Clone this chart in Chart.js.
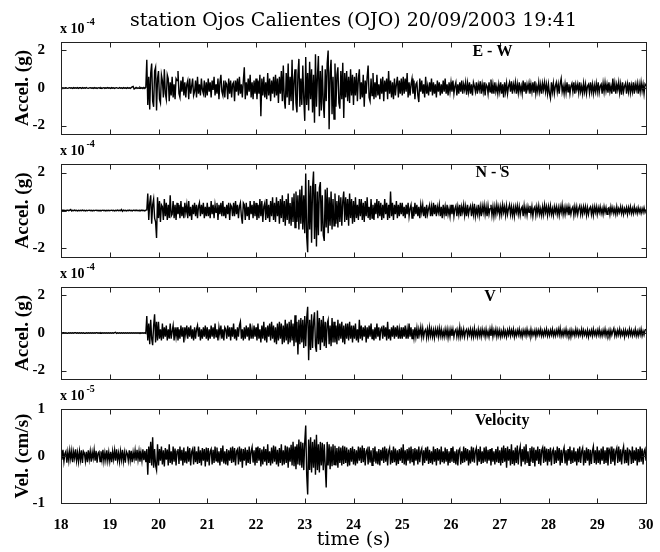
<!DOCTYPE html>
<html>
<head>
<meta charset="utf-8">
<script src="https://cdn.jsdelivr.net/npm/chart.js@4.4.0/dist/chart.umd.min.js"></script>
<style>
  body { margin: 0; background: #fff; }
  #wrap { position: relative; width: 660px; height: 552px; }
  #wrap canvas { position: absolute; left: 0; top: 0; }
</style>
</head>
<body>
<div id="wrap">
  <canvas id="c0" width="660" height="552"></canvas>
  <canvas id="c1" width="660" height="552"></canvas>
  <canvas id="c2" width="660" height="552"></canvas>
  <canvas id="c3" width="660" height="552"></canvas>
</div>
<script>
// sampling of the traces (s)
const timeStart = 18;
const sampleStep = 0.02;

const timeTicks = [18, 19, 20, 21, 22, 23, 24, 25, 26, 27, 28, 29, 30];
const accelTicks = [-2, 0, 2];
const velTicks = [-1, 0, 1];
const components = ['E - W', 'N - S', 'V', 'Velocity'];

// accelerations in 1e-4 g, one line per second (50 samples)
const accelEW = [
  .02,-.01,.01,-.02,.01,.02,-.01,-.02,.01,.02,-.01,.01,-.02,.02,-.01,.01,-.01,.02,-.02,.01,.01,-.02,.02,-.01,.01,-.01,.02,-.01,-.02,.01,.02,-.01,.01,-.02,.02,-.01,.01,-.02,.01,.02,-.01,.01,-.02,.01,.02,-.02,.01,-.01,.02,-.01,
  .01,-.02,.02,-.01,.01,-.02,.01,.02,-.01,-.02,.02,-.01,.01,-.02,.02,-.01,.01,-.02,.02,-.01,.01,-.02,.02,.06,.08,-.05,-.02,.03,-.02,.01,-.02,.03,-.02,.02,-.03,.03,-.02,.04,1.5,-.9,.6,-1.15,.8,1.3,-.7,-1.0,.9,1.1,-1.2,.5,
  .9,-.6,-.8,.7,.4,-.5,1.0,-.3,-.6,.7,.5,-.7,.3,-.4,.6,-.5,.2,-.6,.5,.4,.9,-.3,-.5,.4,-.2,.6,-.4,.3,-.5,.2,.4,-.6,.5,-.3,.1,.5,-.4,-.2,.4,-.5,.6,-.3,.2,-.4,.5,-.1,-.3,.4,-.5,.3,
  -.4,.5,-.2,.3,-.5,.4,-.1,.6,-.4,.2,-.3,.5,-.6,.3,.7,-.2,-.4,.4,-.5,.3,.2,-.6,.5,-.3,.4,-.5,.2,.3,-.7,.4,-.2,.5,-.4,.6,-.3,.2,-.5,.4,1.1,-.6,.3,-.4,.5,-.2,.7,-.5,.3,-.6,.4,-.3,
  .5,-.6,.4,-.3,.7,-1.5,.5,-.4,.6,-.5,.3,-.6,.8,-.4,.5,-.7,.4,-.3,.6,-.5,.7,-.4,.5,-.8,.6,-.3,.9,-.7,1.2,-.6,-1.1,.8,-.5,1.3,-.9,.6,-.7,1.5,-1.2,.4,1.0,-.8,-1.3,.7,1.55,-1.0,.5,-.9,1.2,-.6,
  -1.75,1.65,-.9,.8,-1.2,1.4,-.6,1.0,-1.3,.7,-1.85,1.8,-1.0,.6,1.7,-1.5,.9,-1.2,1.2,-.8,-1.6,1.0,-.7,1.3,2.0,-2.2,.8,1.5,-1.4,.6,-1.65,1.3,-1.0,.7,1.1,-.8,-1.1,.9,-.6,1.35,-1.6,.8,-.5,.9,-.7,.6,-.8,1.0,-.4,.7,
  -.9,.6,-.4,.8,-.7,.5,1.0,-.6,.3,-.5,.7,-1.0,.4,-.3,.6,1.2,-.5,-.7,.5,-.4,.8,-.6,.3,-.5,.7,-.4,.2,-.6,.5,-.3,.6,-.7,.4,-.2,.5,-.6,.9,-.3,.4,-.5,.3,-.6,.5,-.4,.2,.6,-.5,.4,-.3,.5,
  -.4,.6,-.3,.5,-.2,.8,-.5,.3,-.4,.2,.5,-.3,.4,-.6,.2,.3,-.4,-.75,.5,-.2,.4,-.3,.2,-.5,.6,-.3,.1,-.4,.3,-.2,.5,-.4,.3,-.3,.2,-.5,.4,-.2,.3,-.4,.2,-.3,.4,-.2,.5,-.3,.2,-.4,.3,-.2,
  .3,-.2,.4,-.3,.1,.3,-.4,.2,-.3,.3,-.2,.4,-.3,.2,-.1,.3,-.35,.25,-.2,.3,-.3,.2,-.4,.3,.1,-.2,.3,-.3,.2,-.1,.35,-.3,.2,-.2,.3,-.4,.2,.1,-.3,.3,-.2,.45,-.3,.2,-.3,.3,-.2,.1,-.3,.2,
  -.2,.3,-.3,.2,-.5,.3,-.2,.25,-.3,.1,.3,-.2,.35,-.3,.2,-.1,.3,-.3,.2,-.25,.3,-.2,.1,-.3,.4,-.2,.3,-.3,.2,-.1,.25,-.3,.2,-.2,.3,-.25,.35,-.3,.1,-.2,.3,-.2,.2,-.3,.25,-.1,.3,-.2,.2,-.3,
  .2,-.3,-.55,.3,-.2,.25,-.3,.1,.3,-.2,.2,-.3,.25,.5,-.2,.1,-.3,.2,-.25,.3,-.2,.2,-.3,.1,.25,-.2,.3,-.3,.2,-.1,.2,-.25,.3,-.2,.1,-.3,.25,-.2,.2,-.3,.1,.2,-.25,.3,-.2,.2,-.3,.15,-.2,.25,
  -.2,.3,-.25,.1,.2,-.3,.25,-.2,.3,-.15,.2,-.25,.3,-.2,.1,-.3,.5,-.2,.25,-.3,.2,-.1,.3,-.25,.2,-.35,.3,-.2,.1,.25,-.3,.2,-.2,.3,-.25,.15,-.2,.3,-.3,.2,-.1,.25,-.3,.2,-.2,.3,-.15,.2,-.3,.2,
  .1
];

const accelNS = [
  .01,-.01,.02,-.01,.01,-.02,.01,.01,-.01,.02,.05,-.03,.01,-.01,.02,-.01,.01,-.02,.01,-.01,.01,-.01,.02,-.01,.01,-.02,.01,-.01,.01,.02,-.01,.01,-.02,.01,-.01,.01,.02,-.01,.01,-.02,.01,-.01,.01,.02,-.01,.01,-.02,.01,-.01,.01,
  -.01,.01,.02,-.01,.01,-.02,.01,-.01,.02,-.01,.01,-.01,.05,-.04,.02,-.01,.01,-.02,.01,-.01,.02,-.01,.01,-.02,.01,.01,-.01,.02,-.01,.01,-.02,.01,-.01,.02,-.01,.01,-.02,.02,.03,.9,-.5,.4,.8,-.7,.3,.6,-.4,-.6,-1.45,.7,
  -.4,.5,-.6,.3,.2,-.5,.6,-.3,.4,-.5,.3,-.4,.8,-.3,-.2,.5,-.4,.3,-.5,.4,-.2,.3,-.4,.5,-.3,.2,-.4,.4,-.1,.3,-.4,.5,-.3,.2,-.5,.3,-.2,.4,-.3,.3,-.4,.2,.4,-.3,.3,-.2,.4,-.4,.2,-.3,
  .4,-.3,.2,-.4,.5,-.2,.3,-.4,.3,-.1,.4,-.5,.3,-.2,.4,-.3,.5,-.3,.2,-.4,.3,-.2,.4,-.5,.3,.2,-.3,.4,-.3,.5,-.2,.3,-.4,.2,.4,-.3,-.7,.4,.3,-.5,.4,-.3,.2,-.5,.5,-.2,.3,-.4,.5,-.3,
  .4,-.5,.3,-.4,.6,-.3,.5,-.6,.2,.4,-.5,.6,-.4,.3,-.6,.5,-.3,.7,-.5,.4,-.6,.7,-.3,.5,-.7,.6,-.4,.8,-.6,.5,-.8,.6,-.5,.9,-.7,.4,-.8,.7,-.6,.9,-.9,1.0,-.6,.8,-1.0,1.1,-.7,1.3,-1.0,.8,
  -1.2,1.95,-1.4,-2.2,1.6,-1.0,1.3,-1.7,1.2,2.05,-1.5,1.4,-1.9,1.0,-1.3,1.2,1.5,-1.1,.8,-1.3,-1.6,1.1,-.9,1.2,-1.2,.7,-.8,1.0,-1.0,.6,-.8,.9,-.7,.5,-.9,.8,-.6,.7,-.8,.5,1.0,-.6,.7,-.5,.6,-.8,.9,-.4,.6,-.7,
  .5,-.6,.7,-.4,.3,-.5,.6,-.3,.6,-.5,.4,-.6,.5,-.3,.7,-.4,.2,-.5,.6,-.4,.3,-.5,.4,-.2,.6,-.4,.5,-.3,.4,-.5,.3,-.4,.6,-.2,.4,-.5,.3,-.4,1.0,-.3,.4,-.5,.3,-.2,.5,-.4,.3,-.3,.4,-.2,
  .4,-.3,.2,-.4,.3,-.2,.4,-.3,.1,.3,-.4,.2,-.3,.4,-.2,.3,-.3,.2,-.4,.3,-.1,.3,-.3,.2,-.4,.3,-.2,.1,.3,-.3,.2,-.3,.4,-.2,.3,-.3,.2,-.1,.3,-.3,.2,-.4,.3,-.2,.2,-.3,.3,-.2,.1,-.3,
  .3,-.2,.3,-.3,.1,.25,-.3,.2,-.2,.3,-.3,.2,-.1,.3,-.25,.2,-.3,.3,-.2,.1,.25,-.3,.2,-.2,.35,-.3,.1,-.2,.3,-.25,.2,-.3,.25,-.1,.3,-.2,.2,-.3,.25,-.2,.1,.3,-.25,.2,-.3,.2,-.2,.3,-.1,.2,
  -.25,.2,-.2,.3,-.1,.2,-.25,.25,-.2,.1,.3,-.2,.2,-.25,.15,-.3,.2,-.1,.25,-.2,.2,-.25,.1,.2,-.3,.25,-.2,.15,-.25,.2,-.1,.25,-.2,.2,-.3,.1,.2,-.25,.2,-.15,.25,-.2,.1,-.25,.2,-.2,.3,-.1,.2,-.25,
  .2,-.15,.25,-.2,.1,-.25,.2,-.1,.2,-.2,.15,-.25,.2,-.1,.3,-.2,.15,-.2,.2,-.1,.2,-.25,.15,-.2,.1,.2,-.25,.2,-.15,.2,-.2,.1,.25,-.2,.15,-.2,.2,-.1,.2,-.25,.15,-.2,.1,.2,-.2,.15,-.25,.2,-.1,.2,
  -.2,.15,-.1,.2,-.15,.1,-.2,.2,-.1,.15,-.2,.1,.15,-.2,.2,-.1,.15,-.15,.1,-.2,.2,-.15,.1,-.1,.2,-.15,.15,-.2,.1,-.1,.15,-.2,.15,-.1,.2,-.15,.1,-.15,.2,-.1,.1,-.15,.15,-.1,.1,-.15,.1,-.1,.15,-.1,
  .05
];

const accelV = [
  .01,-.01,.01,.01,-.01,.01,-.01,-.01,.01,-.01,.01,-.01,.01,-.01,.01,.01,-.01,.01,-.01,.01,-.01,.01,-.01,.01,-.01,-.01,.01,-.01,.01,-.01,.01,-.01,.01,-.01,.01,-.01,.01,.01,-.01,.01,-.01,.01,-.01,.01,-.01,.01,-.01,.01,-.01,.01,
  -.01,.01,-.01,.01,-.01,.02,.04,-.02,.01,-.01,.01,-.01,.01,-.01,.01,-.01,.01,-.01,.01,-.01,.01,-.01,.01,-.01,.01,-.01,.01,-.01,.01,-.01,.01,-.01,.01,-.01,.01,-.01,.01,-.02,.9,-.4,.5,-.6,.7,-.3,-.65,.4,1.0,-.5,.6,-.4,
  .6,-.3,.2,-.4,.5,-.3,.3,-.2,.4,-.4,.2,-.3,.5,-.3,.1,.4,-.4,.3,-.2,.3,-.4,.2,-.3,.4,-.2,.3,-.5,.3,-.1,.4,-.3,.3,-.2,.4,-.3,.2,-.4,.3,-.3,.2,.4,-.2,.3,-.4,.2,-.3,.3,-.2,.4,-.3,
  .3,-.4,.2,-.3,.4,-.2,.3,-.3,.5,-.2,.2,-.4,.3,-.1,.4,-.3,.2,-.4,.3,.2,-.3,.4,-.2,.3,-.4,.3,-.2,.5,-.3,.2,-.4,.3,-.2,.4,.6,-.3,.2,-.4,.3,-.3,.4,-.2,.3,-.4,.5,-.3,.2,-.3,.4,-.2,
  .3,-.4,.5,-.3,.2,-.5,.4,-.3,.6,-.4,.3,-.5,.4,-.2,.5,-.4,.6,-.3,.4,-.5,.3,-.6,.5,-.4,.6,-.3,.5,-.6,.4,-.5,.7,-.4,.5,-.6,.6,-.5,.7,-.4,.5,-.7,.95,-.5,.6,-1.15,.7,-.6,.8,-.5,.7,-.8,
  .9,-.7,.8,1.4,-1.45,.7,-.9,1.0,-.8,.6,1.1,-.7,-1.0,1.2,-.6,.8,-.9,.7,-.5,.9,-.7,.6,-.8,.5,.7,-.6,.4,-.7,.8,-.5,.6,-.5,.4,-.6,.7,-.4,.5,-.3,.6,-.5,.4,-.6,.5,-.3,.5,-.4,.6,-.3,.4,-.5,
  .4,-.3,.5,-.4,.2,-.5,.7,-.3,.4,-.4,.3,-.2,.4,-.5,.3,-.3,.4,-.2,.5,-.3,.2,-.4,.3,-.3,.5,-.2,.3,-.4,.2,.3,-.3,.4,-.2,.3,-.4,.6,-.3,.2,-.4,.3,-.2,.4,-.3,.3,-.2,.4,-.3,.2,-.3,.3,
  -.3,.3,-.2,.4,-.3,.2,-.3,.5,-.2,.3,-.3,.2,-.25,.3,-.2,.25,-.3,.2,-.1,.3,-.2,.25,-.2,.1,.2,-.25,.2,-.2,.3,-.15,.2,-.2,.15,-.25,.2,-.1,.2,-.2,.25,-.15,.2,-.2,.1,-.2,.2,-.15,.2,-.25,.15,-.2,
  .2,-.15,.2,-.2,.1,.2,-.2,.15,-.2,.3,-.2,.15,-.15,.2,-.2,.1,.2,-.2,.15,-.1,.2,-.2,.15,-.2,.25,-.15,.1,-.2,.2,-.15,.15,-.2,.2,-.1,.15,-.2,.2,-.15,.1,-.2,.2,-.15,.25,-.2,.15,-.1,.2,-.2,.15,-.15,
  .15,-.2,.1,-.15,.2,-.15,.1,-.2,.15,-.1,.2,-.15,.15,-.1,.2,-.2,.1,-.15,.15,-.1,.2,-.15,.1,-.2,.15,-.1,.15,-.15,.2,-.1,.1,-.15,.2,-.15,.1,-.1,.15,-.2,.15,-.1,.15,-.1,.2,-.15,.1,-.15,.15,-.1,.2,-.15,
  .1,-.15,.15,-.1,.2,-.15,.1,-.15,.15,-.1,.2,-.1,.25,-.15,.1,-.15,.15,-.1,.2,-.15,.1,-.1,.15,-.2,.15,-.1,.1,-.15,.2,-.1,.15,-.15,.1,-.1,.2,-.15,.15,-.1,.1,-.15,.15,-.2,.1,-.1,.15,-.15,.2,-.1,.1,-.15,
  .15,-.1,.2,-.15,.1,-.15,.15,-.1,.2,-.15,.1,-.1,.15,-.2,.15,-.1,.1,.25,-.15,.1,-.15,.15,-.1,.2,-.15,.1,-.1,.15,-.2,.15,-.1,.1,-.15,.2,-.1,.15,-.15,.1,-.1,.2,-.15,.1,-.15,.15,-.1,.2,-.15,.1,-.1,.15,
  .2
];

// velocity in 1e-5 cm/s
const velocity = [
  .1,-.08,.13,-.12,.05,.1,-.14,.08,-.1,.12,-.06,.11,-.13,.09,-.05,.14,-.1,.07,-.12,.1,-.08,.12,-.15,.1,.06,-.11,.09,-.13,.12,-.07,.1,-.12,.08,-.05,.13,-.1,.11,-.14,.06,.09,-.12,.1,-.08,.13,-.11,.07,-.09,.12,-.1,.08,
  -.11,.09,-.13,.1,-.07,.12,-.1,.14,-.09,.06,-.12,.1,-.08,.13,-.11,.07,-.14,.1,.05,-.1,.12,-.09,.11,-.13,.08,-.06,.12,-.1,.13,-.08,.1,-.12,.07,-.1,.14,-.09,.11,-.13,.15,-.4,.2,-.15,.3,-.2,.4,-.25,.15,-.2,-.3,.25,
  -.2,.15,-.1,.2,-.18,.12,-.22,.17,-.08,.14,-.2,.25,-.15,.1,-.18,.2,-.12,.16,-.2,.1,.15,-.17,.2,-.1,.13,-.2,.18,-.14,.1,-.16,.2,-.12,.17,-.2,.09,.15,-.18,.2,-.13,.1,-.17,.2,-.15,.12,-.2,.17,-.1,.15,-.22,.18,
  -.12,.17,-.2,.1,.15,-.18,.13,-.15,.2,-.1,.18,-.14,.1,-.2,.17,-.12,.22,-.16,.1,-.18,.15,-.2,.12,-.1,.18,-.15,.2,-.13,.17,-.2,.1,.14,-.18,.2,-.12,.16,-.25,.15,-.1,.18,-.2,.13,-.15,.2,-.17,.1,.19,-.14,.12,-.2,
  .18,-.15,.2,-.1,.17,-.22,.14,-.18,.2,-.12,.15,-.2,.25,-.15,.1,-.2,.18,-.16,.22,-.12,.2,-.18,.13,-.22,.17,-.15,.25,-.2,.12,-.18,.22,-.15,.2,-.25,.18,-.12,.24,-.2,.3,-.22,.2,-.28,.25,-.18,.35,-.2,.3,-.25,.28,-.3,
  .3,.65,-.4,-.82,.35,-.3,.4,-.35,.3,-.25,.35,-.4,.45,-.3,.25,-.35,.3,-.2,.28,-.3,.25,-.2,-.67,.3,-.2,.25,-.28,.2,-.22,.25,-.18,.22,-.2,.17,-.25,.2,-.15,.18,-.2,.22,-.17,.2,-.15,.18,-.22,.14,-.2,.17,-.12,.2,
  -.18,.15,-.2,.12,-.16,.2,-.1,.18,-.15,.22,-.13,.17,-.2,.1,.15,-.18,.2,-.14,.12,-.2,.17,-.12,.2,-.16,.1,-.18,.15,-.2,.13,-.1,.18,-.15,.2,-.12,.16,-.2,.1,.17,-.18,.12,-.15,.2,-.13,.16,-.2,.12,-.17,.15,-.1,.18,
  -.15,.25,-.18,.12,-.2,.15,-.1,.18,-.16,.2,-.12,.15,-.2,.17,-.1,.14,-.18,.2,-.13,.1,.16,-.2,.12,-.15,.18,-.1,.2,-.17,.13,-.15,.1,-.18,.2,-.12,.15,-.2,.17,-.1,.14,-.18,.2,-.13,.1,-.16,.18,-.12,.15,-.2,.1,-.15,
  .17,-.12,.2,-.15,.1,-.18,.14,-.2,.12,.16,-.18,.1,-.15,.2,-.13,.17,-.1,.15,-.2,.12,-.16,.2,-.12,.18,-.14,.1,.17,-.2,.15,-.12,.2,-.17,.1,-.15,.18,-.12,.2,-.16,.13,-.1,.15,-.2,.17,-.12,.1,-.18,.15,-.13,.2,-.15,
  .12,-.2,.18,-.15,.22,-.12,.17,-.25,.2,-.1,.15,-.2,.25,-.17,.12,-.2,.18,-.15,.22,-.18,.1,.2,-.22,.15,-.12,.2,-.18,.25,-.15,.1,-.2,.17,-.12,.2,-.15,.18,-.22,.13,-.1,.2,-.17,.15,-.2,.12,.18,-.15,.2,-.12,.16,-.2,
  .15,-.12,.18,-.2,.1,.15,-.17,.12,-.15,.2,-.1,.17,-.2,.13,-.15,.1,.18,-.16,.12,-.2,.15,-.1,.2,-.17,.12,-.15,.18,-.12,.1,-.2,.16,-.13,.2,-.15,.1,.17,-.2,.12,-.15,.18,-.1,.15,-.2,.13,-.17,.1,.2,-.15,.12,-.18,
  .2,-.15,.12,-.18,.16,-.1,.2,-.17,.12,-.15,.18,-.2,.1,.15,-.17,.2,-.12,.16,-.2,.1,.17,-.15,.2,-.12,.14,-.18,.1,.2,-.16,.13,-.15,.18,-.2,.12,.1,-.17,.2,-.15,.12,-.1,.18,-.2,.15,-.13,.2,-.12,.16,-.18,.1,.15,
  -.1
];

Chart.defaults.font.family = '"Liberation Serif", "Times New Roman", serif';
Chart.defaults.color = '#000';

function toPoints(values) {
  return values.map((v, i) => ({ x: timeStart + i * sampleStep, y: v }));
}

// box, inward ticks, "x 10^n" multiplier and component name
const framePlugin = {
  id: 'frame',
  afterDraw(chart, args, opts) {
    const { ctx, chartArea: a, scales: { x, y } } = chart;
    ctx.save();
    ctx.strokeStyle = '#222';
    ctx.lineWidth = 1;
    const l = Math.round(a.left) + 0.5, t = Math.round(a.top) + 0.5;
    const r = Math.round(a.right) + 0.5, b = Math.round(a.bottom) + 0.5;
    ctx.strokeRect(l, t, r - l, b - t);
    ctx.beginPath();
    timeTicks.forEach(v => {
      if (v === x.min || v === x.max) return;
      const px = Math.round(x.getPixelForValue(v)) + 0.5;
      ctx.moveTo(px, t); ctx.lineTo(px, t + 5);
      ctx.moveTo(px, b); ctx.lineTo(px, b - 5);
    });
    y.ticks.forEach(tk => {
      if (tk.value === y.min || tk.value === y.max) return;
      const py = Math.round(y.getPixelForValue(tk.value)) + 0.5;
      ctx.moveTo(l, py); ctx.lineTo(l + 5, py);
      ctx.moveTo(r, py); ctx.lineTo(r - 5, py);
    });
    ctx.stroke();

    ctx.fillStyle = '#000';
    ctx.textAlign = 'left';
    ctx.textBaseline = 'alphabetic';
    ctx.font = 'bold 14px "Liberation Serif"';
    ctx.fillText('x 10', a.left - 1, a.top - 9);
    const w = ctx.measureText('x 10').width;
    ctx.font = 'bold 10px "Liberation Serif"';
    ctx.fillText(opts.exponent, a.left + w + 1, a.top - 17);

    ctx.font = 'bold 16px "Liberation Serif"';
    ctx.textAlign = 'center';
    ctx.textBaseline = 'middle';
    ctx.fillText(opts.name, x.getPixelForValue(opts.nameAt[0]), y.getPixelForValue(opts.nameAt[1]));
    ctx.restore();
  }
};

const panels = [
  { id: 'c0', values: accelEW, ticks: accelTicks, lim: 2.45, top: 0, bottom: 418, yTitle: 'Accel. (g)', exponent: '-4', nameAt: [26.85, 1.95] },
  { id: 'c1', values: accelNS, ticks: accelTicks, lim: 2.45, top: 164, bottom: 295, yTitle: 'Accel. (g)', exponent: '-4', nameAt: [26.85, 2.0] },
  { id: 'c2', values: accelV, ticks: accelTicks, lim: 2.45, top: 287, bottom: 173, yTitle: 'Accel. (g)', exponent: '-4', nameAt: [26.8, 1.95] },
  { id: 'c3', values: velocity, ticks: velTicks, lim: 1, top: 409, bottom: 0, yTitle: 'Vel. (cm/s)', exponent: '-5', nameAt: [27.05, 0.75] }
];

panels.forEach((p, i) => {
  const first = i === 0;
  const last = i === panels.length - 1;
  new Chart(document.getElementById(p.id), {
    type: 'line',
    data: {
      datasets: [{
        data: toPoints(p.values),
        borderColor: '#000',
        borderWidth: 1.4,
        pointRadius: 0,
        tension: 0,
        fill: false
      }]
    },
    options: {
      responsive: false,
      animation: false,
      events: [],
      layout: { padding: { top: p.top, bottom: p.bottom, left: 0, right: 14 } },
      plugins: {
        legend: { display: false },
        tooltip: { enabled: false },
        title: {
          display: first,
          fullSize: false,
          text: 'station Ojos Calientes (OJO) 20/09/2003 19:41',
          color: '#000',
          font: { family: '"DejaVu Serif", serif', size: 19, weight: 'normal', lineHeight: 1.2 },
          padding: { top: 10, bottom: 9.2 }
        },
        frame: { exponent: p.exponent, name: components[i], nameAt: p.nameAt }
      },
      scales: {
        x: {
          type: 'linear',
          min: timeTicks[0],
          max: timeTicks[timeTicks.length - 1],
          display: last,
          grid: { display: false },
          border: { display: false },
          ticks: {
            stepSize: 1,
            padding: 5,
            maxRotation: 0,
            font: { size: 15, weight: 'bold' }
          },
          title: {
            display: true,
            text: 'time (s)',
            font: { family: '"DejaVu Serif", serif', size: 19, weight: 'normal', lineHeight: 1.2 },
            padding: { top: 0, bottom: 1 }
          },
          afterBuildTicks: s => { s.ticks = timeTicks.map(v => ({ value: v })); },
          afterFit: s => {
            if (last) s.height = 49;
            s.paddingLeft = 0;
            s.paddingRight = 0;
          }
        },
        y: {
          min: -p.lim,
          max: p.lim,
          grid: { display: false },
          border: { display: false },
          ticks: { padding: 8, font: { size: 15, weight: 'bold' } },
          title: {
            display: true,
            text: p.yTitle,
            font: { size: 19, weight: 'bold', lineHeight: 1.2 },
            padding: { top: 12, bottom: 0 }
          },
          afterBuildTicks: s => { s.ticks = p.ticks.map(v => ({ value: v })); },
          afterFit: s => { s.width = 61; s.paddingTop = 0; s.paddingBottom = 0; }
        }
      }
    },
    plugins: [framePlugin]
  });
});
</script>
</body>
</html>
